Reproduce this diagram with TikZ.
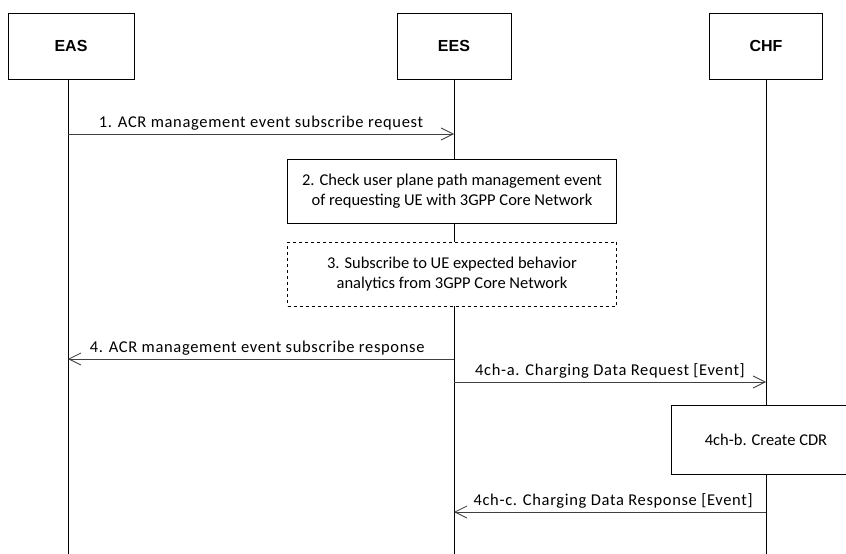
\documentclass[tikz,border=0pt]{standalone}
\usepackage{fontspec}
\setmainfont{Carlito}
\newfontfamily\boxfont{Liberation Sans}
\newfontfamily\msgfont[LetterSpace=4]{Carlito}
\usetikzlibrary{arrows.meta,positioning}

\begin{document}
\begin{tikzpicture}[x=1pt, y=-1pt, line width=0.8pt, font=\fontsize{16.5}{20}\selectfont,
        entity/.style={draw, minimum width=126pt, minimum height=66pt, font=\boxfont\bfseries\fontsize{16}{19}\selectfont},
        action/.style={draw, align=center, minimum width=329pt, minimum height=64pt, fill=white},
        msg/.style={-{Straight Barb[length=12pt,width=12pt]}, black!75},
        msglabel/.style={anchor=base, yshift=7pt, text=black, font=\msgfont\fontsize{16.5}{20}\selectfont}]

    \clip (0,0) rectangle (846,554);
    \useasboundingbox (0,0) rectangle (846,554);

    % entities
    \node[entity] (eas) at (71,46) {EAS};
    \node[entity, minimum width=114pt] (ees) at (454,46) {EES};
    \node[entity, minimum width=113pt] (chf) at (766,46) {CHF};

    % lifelines
    \coordinate (eas end) at (68,554);
    \coordinate (ees end) at (454,554);
    \coordinate (chf end) at (766,554);
    \draw (eas.south -| eas end) -- (eas end);
    \draw (ees.south) -- (ees end);
    \draw (chf.south) -- (chf end);

    % local actions
    \node[action] (check) at (452,191) {2. Check user plane path management event\\of requesting UE with 3GPP Core Network};
    \node[action, dashed, line width=0.6pt] (subscribe) at (452,274) {3. Subscribe to UE expected behavior\\analytics from 3GPP Core Network};
    \node[draw, fill=white, minimum width=190pt, minimum height=69pt] (cdr) at (766,440) {4ch-b. Create CDR};

    % messages
    \coordinate (m1a) at (68,134);  \coordinate (m1b) at (454,134);
    \coordinate (m4a) at (454,359); \coordinate (m4b) at (68,359);
    \coordinate (m5a) at (454,382); \coordinate (m5b) at (766,382);
    \coordinate (m6a) at (766,512); \coordinate (m6b) at (454,512);

    \draw[msg] (m1a) -- node[msglabel, pos=0.5] {1. ACR management event subscribe request} (m1b);
    \draw[msg] (m4a) -- node[msglabel, pos=0.51] {4. ACR management event subscribe response} (m4b);
    \draw[msg] (m5a) -- node[msglabel, pos=0.5] {4ch-a. Charging Data Request [Event]} (m5b);
    \draw[msg] (m6a) -- node[msglabel, pos=0.49] {4ch-c. Charging Data Response [Event]} (m6b);
\end{tikzpicture}
\end{document}
